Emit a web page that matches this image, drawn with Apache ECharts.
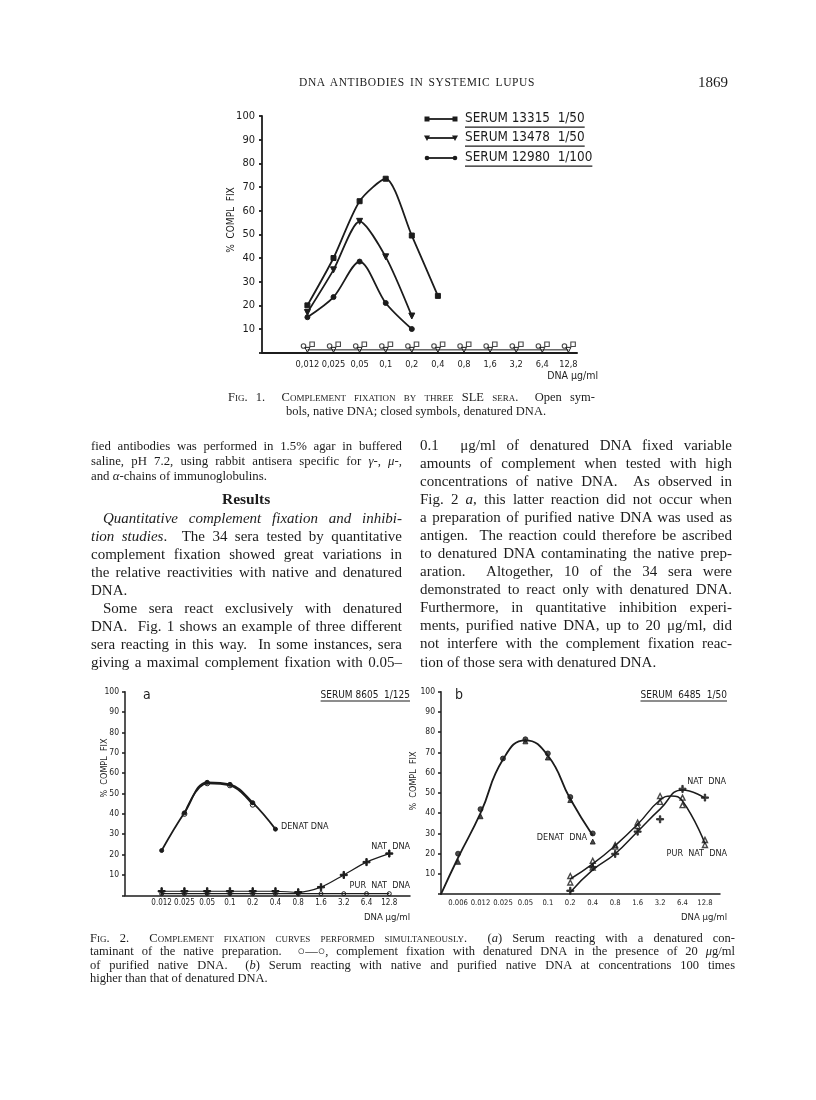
<!DOCTYPE html>
<html><head><meta charset="utf-8">
<script src="https://cdn.jsdelivr.net/npm/echarts@6/dist/echarts.min.js"></script>
<style>
html,body{margin:0;padding:0;background:#fff;}
#page{position:relative;width:816px;height:1100px;overflow:hidden;background:#fff;}
#chart{position:absolute;left:0;top:0;width:816px;height:1100px;}
.ln{position:absolute;white-space:nowrap;font-family:"Liberation Serif","DejaVu Serif",serif;color:#1c1c1c;}
.sc{font-variant:small-caps;}
</style></head><body>
<div id="page"><div id="chart"></div></div>
<script>
// ================= DATA =================
// Fig. 1 — complement fixation by three SLE sera (x = DNA µg/ml categories)
const fig1Ticks = ['0,012','0,025','0,05','0,1','0,2','0,4','0,8','1,6','3,2','6,4','12,8'];
const serum13315Denat = [20, 40, 64, 73.5, 49.5, 24];
const serum13478Denat = [17, 35, 55.5, 40.5, 15.5];
const serum12980Denat = [15, 23.5, 38.5, 21, 10];
const serum13315Native = [3.6, 3.6, 3.6, 3.6, 3.6, 3.6, 3.6, 3.6, 3.6, 3.6, 3.6];
const serum13478Native = [1.2, 1.2, 1.2, 1.2, 1.2, 1.2, 1.2, 1.2, 1.2, 1.2, 1.2];
const serum12980Native = [2.8, 2.8, 2.8, 2.8, 2.8, 2.8, 2.8, 2.8, 2.8, 2.8, 2.8];
const fig1Legend = ['SERUM 13315  1/50', 'SERUM 13478  1/50', 'SERUM 12980  1/100'];

// Fig. 2a — serum 8605 1/125
const fig2aTicks = ['0.012','0.025','0.05','0.1','0.2','0.4','0.8','1.6','3.2','6.4','12.8'];
const denat2a = [22, 40.5, 55.5, 54.5, 45.5, 32.5];
const denatWithPur2a = [null, 40, 55, 54, 44.5];
const nat2a = [2, 2, 2, 2, 2, 2, 1.5, 4, 10, 16.3, 20.5];
const purNat2a = [0.8, 0.8, 0.8, 0.8, 0.8, 0.8, 0.8, 0.8, 0.8, 0.8, 0.8];

// Fig. 2b — serum 6485 1/50
const fig2bTicks = ['0.006','0.012','0.025','0.05','0.1','0.2','0.4','0.8','1.6','3.2','6.4','12.8'];
const denatCurve2b = [18, 40, 66.5, 76, 68.5, 47, 29];          // drawn curve, from origin
const denatA2b = [20, 42, 67, 76.5, 69.5, 48, 30];
const denatB2b = [16, 38.5, null, 75.5, 67.5, 46.5, 26];
const purCurve2b = [null, null, null, null, null, 7.5, 15, 24, 34.5, 46.5, 46, 25];
const purPeak2b = {at: 9.5, value: 48.5};
const purA2b = [null, null, null, null, null, 9, 16.5, 24.3, 35.4, 48.5, 47.7, 26.8];
const purB2b = [null, null, null, null, null, 5.8, 13.2, 23.5, 33.6, 45.6, 44, 24.3];
const natCurve2b = [null, null, null, null, null, 1, 12, 20, 31, 42, 51.5, 47.5];
const natMarks2b = [null, null, null, null, null, 1.7, 13.4, 19.9, 30.9, 37, 52, 47.7];

// ================= CHART =================
const FONT = '"DejaVu Sans Condensed","DejaVu Sans",sans-serif';
const NARROW = '"Liberation Sans Narrow","Arial Narrow","DejaVu Sans Condensed",sans-serif';
const INK = '#1c1c1c';
const X1 = {min: -1.74, max: 10.33};
const X2A = {min: -1.61, max: 10.91};
const X2B = {min: -0.76, max: 11.67};
const PLUS = 'path://M4,0H6V4H10V6H6V10H4V6H0V4H4Z';
const CLEAR = 'rgba(0,0,0,0)';

const pts = (arr, off) => arr.map((v, i) => v == null ? null : [i + (off || 0), v]).filter(p => p);

function mkX(g, r, ticks, fs, margin, lw) {
  return {type: 'value', gridIndex: g, min: r.min, max: r.max,
    axisLine: {show: true, onZero: false, lineStyle: {color: INK, width: lw}},
    axisTick: {show: false}, splitLine: {show: false},
    axisLabel: {customValues: ticks.map((_, i) => i), formatter: v => ticks[Math.round(v)] || '',
      fontSize: fs, margin: margin, color: INK, fontFamily: NARROW}};
}
function mkY(g, fs, margin, lw) {
  return {type: 'value', gridIndex: g, min: 0, max: 100, interval: 10,
    axisLine: {show: true, onZero: false, lineStyle: {color: INK, width: lw}},
    axisTick: {show: true, inside: false, length: 3, lineStyle: {color: INK, width: lw}},
    splitLine: {show: false},
    axisLabel: {formatter: v => v === 0 ? '' : String(v), fontSize: fs, margin: margin, color: INK, fontFamily: NARROW}};
}
const base = (x, name) => ({name, xAxisIndex: x, yAxisIndex: x, silent: true,
  itemStyle: {color: INK, borderColor: INK}, lineStyle: {color: INK}});
const open = bw => ({color: CLEAR, borderColor: INK, borderWidth: bw});

const series = [
  // Fig 1
  Object.assign(base(0, 'S13315'), {type: 'line', data: pts(serum13315Denat), symbol: 'rect', symbolSize: 5, smooth: 0.25, lineStyle: {color: INK, width: 1.8}}),
  Object.assign(base(0, 'S13478'), {type: 'line', data: pts(serum13478Denat), symbol: 'triangle', symbolRotate: 180, symbolSize: 6, smooth: 0.25, lineStyle: {color: INK, width: 1.8}}),
  Object.assign(base(0, 'S12980'), {type: 'line', data: pts(serum12980Denat), symbol: 'circle', symbolSize: 5, smooth: 0.3, lineStyle: {color: INK, width: 1.8}}),
  Object.assign(base(0, 'N13478'), {type: 'line', data: pts(serum13478Native), symbol: 'triangle', symbolRotate: 180, symbolSize: 5, lineStyle: {color: INK, width: 1}, itemStyle: open(1)}),
  Object.assign(base(0, 'N12980'), {type: 'scatter', data: pts(serum12980Native, -0.15), symbol: 'circle', symbolSize: 4.5, itemStyle: open(1.1)}),
  Object.assign(base(0, 'N13315'), {type: 'scatter', data: pts(serum13315Native, 0.18), symbol: 'rect', symbolSize: 4.5, itemStyle: open(1.1)}),
  // Fig 2a
  Object.assign(base(1, 'denat2a'), {type: 'line', data: pts(denat2a), symbol: 'circle', symbolSize: 4, smooth: 0.4, lineStyle: {color: INK, width: 1.8}}),
  Object.assign(base(1, 'denatPur2a'), {type: 'line', data: pts(denatWithPur2a), symbol: 'circle', symbolSize: 5, smooth: 0.4, lineStyle: {color: INK, width: 1.8}, itemStyle: open(1)}),
  Object.assign(base(1, 'pur2a'), {type: 'line', data: pts(purNat2a), symbol: 'circle', symbolSize: 4, lineStyle: {color: INK, width: 1.4}, itemStyle: open(1)}),
  Object.assign(base(1, 'nat2a'), {type: 'line', data: pts(nat2a), symbol: PLUS, symbolSize: 7, smooth: 0.3, lineStyle: {color: INK, width: 1.2}}),
  // Fig 2b
  Object.assign(base(2, 'denatCurve2b'), {type: 'line', data: [[X2B.min, 0]].concat(pts(denatCurve2b)), symbol: 'none', smooth: 0.5, lineStyle: {color: INK, width: 1.8}}),
  Object.assign(base(2, 'denatA2b'), {type: 'scatter', data: pts(denatA2b), symbol: 'circle', symbolSize: 5}),
  Object.assign(base(2, 'denatB2b'), {type: 'scatter', data: pts(denatB2b), symbol: 'triangle', symbolSize: 5}),
  Object.assign(base(2, 'purCurve2b'), {type: 'line', data: pts(purCurve2b).concat([[purPeak2b.at, purPeak2b.value]]).sort((a, b) => a[0] - b[0]), symbol: 'none', smooth: 0.5, lineStyle: {color: INK, width: 1.5}}),
  Object.assign(base(2, 'purA2b'), {type: 'scatter', data: pts(purA2b), symbol: 'triangle', symbolSize: 5, itemStyle: open(1.4)}),
  Object.assign(base(2, 'purB2b'), {type: 'scatter', data: pts(purB2b), symbol: 'triangle', symbolSize: 5, itemStyle: open(1.4)}),
  Object.assign(base(2, 'natCurve2b'), {type: 'line', data: pts(natCurve2b), symbol: 'none', smooth: 0.5, lineStyle: {color: INK, width: 1.5}}),
  Object.assign(base(2, 'natMarks2b'), {type: 'scatter', data: pts(natMarks2b), symbol: PLUS, symbolSize: 7})
];

// text measure for underlines
const mctx = document.createElement('canvas').getContext('2d');
function tw(text, font) { mctx.font = font; return mctx.measureText(text).width; }

const graphic = [];
function gtext(text, x, y, fs, opt) {
  opt = opt || {};
  graphic.push({type: 'text', x, y, rotation: opt.rot || 0, silent: true,
    style: {text, fill: INK, font: (opt.w || 'normal') + ' ' + fs + 'px ' + (opt.f || FONT), align: opt.align || 'left', verticalAlign: 'middle'}});
}
function underlined(text, x, y, fs, align) {
  const w = tw(text, 'normal ' + fs + 'px ' + FONT);
  gtext(text, x, y, fs, {align});
  const x0 = align === 'right' ? x - w : x;
  graphic.push({type: 'line', silent: true, shape: {x1: x0, y1: y + fs * 0.6, x2: x0 + w, y2: y + fs * 0.6}, style: {stroke: INK, lineWidth: 1.2}});
}

// Fig 1 legend
const legY = [119, 138, 158];
legY.forEach((y, k) => {
  graphic.push({type: 'line', silent: true, shape: {x1: 427, y1: y, x2: 455, y2: y}, style: {stroke: INK, lineWidth: 1.8}});
  [427, 455].forEach(cx => {
    if (k === 0) graphic.push({type: 'rect', silent: true, shape: {x: cx - 2.5, y: y - 2.5, width: 5, height: 5}, style: {fill: INK}});
    if (k === 1) graphic.push({type: 'polygon', silent: true, shape: {points: [[cx - 3, y - 2.5], [cx + 3, y - 2.5], [cx, y + 3]]}, style: {fill: INK}});
    if (k === 2) graphic.push({type: 'circle', silent: true, shape: {cx, cy: y, r: 2.3}, style: {fill: INK}});
  });
  underlined(fig1Legend[k], 465, y, 13.4, 'left');
});
gtext('%  COMPL  FIX', 231, 220, 10, {rot: Math.PI / 2, align: 'center'});
gtext('DNA µg/ml', 598, 376, 10.5, {align: 'right', f: NARROW});

// Fig 2a annotations
gtext('a', 143, 695, 14);
underlined('SERUM 8605  1/125', 410, 695, 10, 'right');
gtext('%  COMPL  FIX', 105, 768, 9, {rot: Math.PI / 2, align: 'center'});
gtext('DENAT DNA', 281, 827, 9);
gtext('NAT  DNA', 410, 847, 9, {align: 'right'});
gtext('PUR  NAT  DNA', 410, 886, 9, {align: 'right'});
gtext('DNA µg/ml', 410, 918, 9.5, {align: 'right', f: NARROW});

// Fig 2b annotations
gtext('b', 455, 695, 14);
underlined('SERUM  6485  1/50', 727, 695, 10, 'right');
gtext('%  COMPL  FIX', 414, 781, 9, {rot: Math.PI / 2, align: 'center'});
gtext('NAT  DNA', 726, 782, 9, {align: 'right'});
gtext('DENAT  DNA', 587, 838, 9, {align: 'right'});
gtext('PUR  NAT  DNA', 727, 854, 9, {align: 'right'});
gtext('DNA µg/ml', 727, 918, 9.5, {align: 'right', f: NARROW});

const chart = echarts.init(document.getElementById('chart'), null, {renderer: 'canvas'});
chart.setOption({
  animation: false,
  grid: [
    {left: 262, top: 116, width: 315, height: 236.7},
    {left: 125, top: 691.7, width: 285, height: 203.6},
    {left: 441, top: 691.7, width: 279, height: 202.5}
  ],
  xAxis: [mkX(0, X1, fig1Ticks, 9.2, 7.5, 2), mkX(1, X2A, fig2aTicks, 8, 4, 1.5), mkX(2, X2B, fig2bTicks, 7.6, 4.5, 1.5)],
  yAxis: [mkY(0, 11, 7, 1.8), mkY(1, 8.5, 6, 1.5), mkY(2, 8.5, 6, 1.5)],
  series: series,
  graphic: graphic
});

// ================= PAGE TEXT =================
const page = document.getElementById('page');
const SC = s => '<span class="sc">' + s + '</span>';
const textLines = [
  {t: 'DNA ANTIBODIES IN SYSTEMIC LUPUS', x: 299, y: 84, fs: 11.5, w: 236, ls: 0.6},
  {t: '1869', x: 698, y: 84, fs: 15},
  {t: 'F' + SC('ig') + '. 1.&nbsp; ' + SC('Complement fixation by three') + ' SLE ' + SC('sera') + '.&nbsp; Open sym-', x: 228, y: 398, fs: 12.5, w: 367},
  {t: 'bols, native DNA; closed symbols, denatured DNA.', x: 286, y: 412, fs: 12.5},
  // left column
  {t: 'fied antibodies was performed in 1.5% agar in buffered', x: 91, y: 447, fs: 12.8, w: 311},
  {t: 'saline, pH 7.2, using rabbit antisera specific for <i>γ</i>-, <i>μ</i>-,', x: 91, y: 462, fs: 12.8, w: 311},
  {t: 'and <i>α</i>-chains of immunoglobulins.', x: 91, y: 477, fs: 12.8},
  {t: 'Results', x: 222, y: 500, fs: 15.5, b: true},
  {t: '<i>Quantitative complement fixation and inhibi-</i>', x: 103, y: 520, fs: 15, w: 299},
  {t: '<i>tion studies</i>.&nbsp; The 34 sera tested by quantitative', x: 91, y: 538, fs: 15, w: 311},
  {t: 'complement fixation showed great variations in', x: 91, y: 556, fs: 15, w: 311},
  {t: 'the relative reactivities with native and denatured', x: 91, y: 574, fs: 15, w: 311},
  {t: 'DNA.', x: 91, y: 592, fs: 15},
  {t: 'Some sera react exclusively with denatured', x: 103, y: 610, fs: 15, w: 299},
  {t: 'DNA.&nbsp; Fig. 1 shows an example of three different', x: 91, y: 628, fs: 15, w: 311},
  {t: 'sera reacting in this way.&nbsp; In some instances, sera', x: 91, y: 646, fs: 15, w: 311},
  {t: 'giving a maximal complement fixation with 0.05–', x: 91, y: 664, fs: 15, w: 311},
  // right column
  {t: '0.1 &nbsp;μg/ml of denatured DNA fixed variable', x: 420, y: 447, fs: 15, w: 312},
  {t: 'amounts of complement when tested with high', x: 420, y: 465, fs: 15, w: 312},
  {t: 'concentrations of native DNA.&nbsp; As observed in', x: 420, y: 483, fs: 15, w: 312},
  {t: 'Fig. 2 <i>a</i>, this latter reaction did not occur when', x: 420, y: 501, fs: 15, w: 312},
  {t: 'a preparation of purified native DNA was used as', x: 420, y: 519, fs: 15, w: 312},
  {t: 'antigen.&nbsp; The reaction could therefore be ascribed', x: 420, y: 537, fs: 15, w: 312},
  {t: 'to denatured DNA contaminating the native prep-', x: 420, y: 555, fs: 15, w: 312},
  {t: 'aration.&nbsp; Altogether, 10 of the 34 sera were', x: 420, y: 573, fs: 15, w: 312},
  {t: 'demonstrated to react only with denatured DNA.', x: 420, y: 591, fs: 15, w: 312},
  {t: 'Furthermore, in quantitative inhibition experi-', x: 420, y: 609, fs: 15, w: 312},
  {t: 'ments, purified native DNA, up to 20 μg/ml, did', x: 420, y: 627, fs: 15, w: 312},
  {t: 'not interfere with the complement fixation reac-', x: 420, y: 645, fs: 15, w: 312},
  {t: 'tion of those sera with denatured DNA.', x: 420, y: 664, fs: 15},
  // Fig 2 caption
  {t: 'F' + SC('ig') + '. 2.&nbsp; ' + SC('Complement fixation curves performed simultaneously') + '.&nbsp; (<i>a</i>) Serum reacting with a denatured con-', x: 90, y: 939, fs: 12.5, w: 645},
  {t: 'taminant of the native preparation.&nbsp; ○—○, complement fixation with denatured DNA in the presence of 20 <i>μ</i>g/ml', x: 90, y: 952.5, fs: 12.5, w: 645},
  {t: 'of purified native DNA.&nbsp; (<i>b</i>) Serum reacting with native and purified native DNA at concentrations 100 times', x: 90, y: 966, fs: 12.5, w: 645},
  {t: 'higher than that of denatured DNA.', x: 90, y: 979.5, fs: 12.5}
];
textLines.forEach(L => {
  const d = document.createElement('div');
  d.className = 'ln';
  d.innerHTML = L.t;
  d.style.fontSize = L.fs + 'px';
  d.style.lineHeight = L.fs + 'px';
  d.style.left = L.x + 'px';
  d.style.top = (L.y - L.fs * 0.58) + 'px';
  if (L.b) d.style.fontWeight = 'bold';
  if (L.ls) d.style.letterSpacing = L.ls + 'px';
  page.appendChild(d);
  if (L.w) {
    const nat = d.getBoundingClientRect().width;
    const n = (d.textContent.match(/[ \u00a0]/g) || []).length;
    if (n) d.style.wordSpacing = ((L.w - nat) / n) + 'px';
  }
});
</script>
</body></html>
